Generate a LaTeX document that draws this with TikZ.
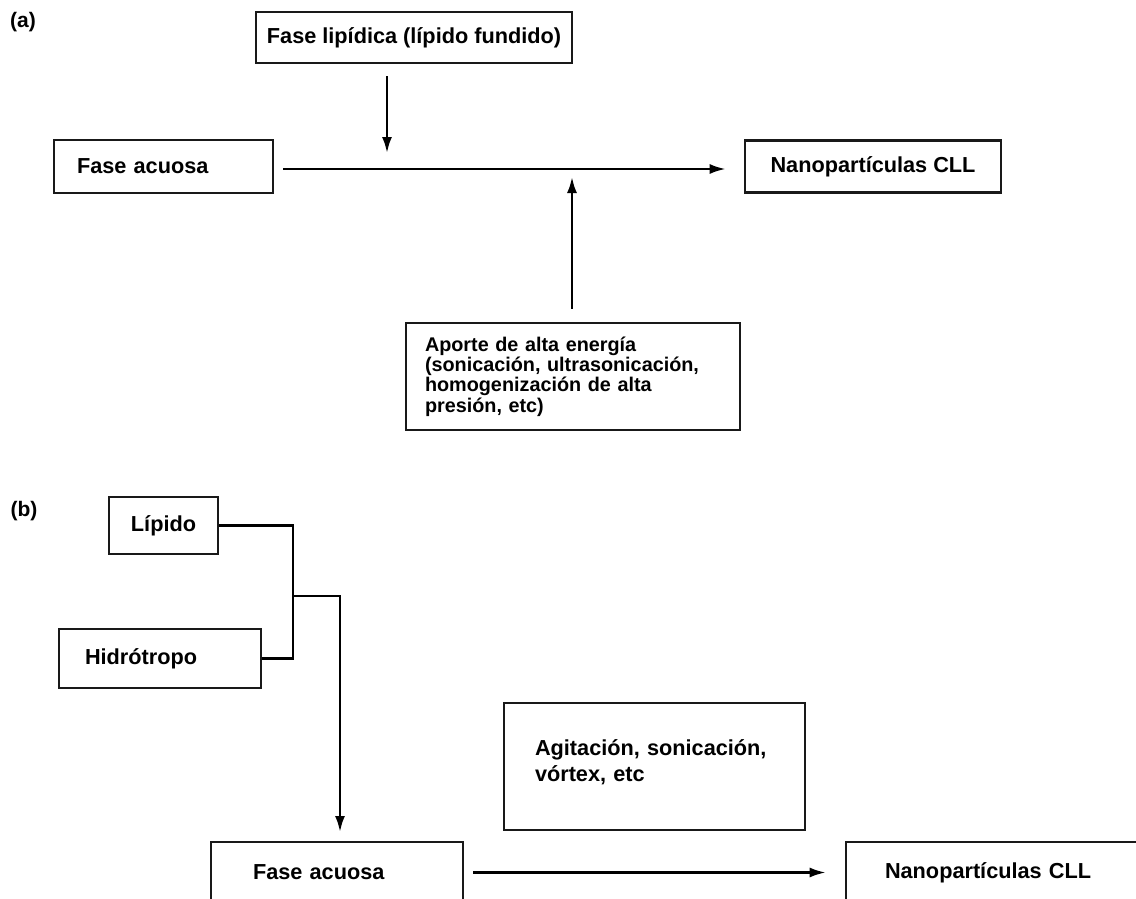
\documentclass[tikz,border=0pt]{standalone}
\usepackage{fontspec}
\setmainfont{Liberation Sans}
\usetikzlibrary{arrows.meta}

\definecolor{boxline}{RGB}{25,25,25}

\begin{document}
\begin{tikzpicture}[x=1pt, y=-1pt,
  box/.style={draw=boxline, line width=2.6pt, inner sep=0pt, font=\bfseries\fontsize{21.7}{26}\selectfont},
  flow/.style={line width=2.4pt, -{Latex[length=16pt,width=10pt]}},
  link/.style={line width=2.4pt},
  tag/.style={font=\bfseries\fontsize{21}{24}\selectfont}]

  \useasboundingbox (0,0) rectangle (1136,899);
  \fill[white] (0,0) rectangle (1136,899);
  \clip (0,0) rectangle (1136,899);

  % (a) melt dispersion route
  \node[tag] (tagA) at (23,22) {(a)};
  \node[box, minimum width=316, minimum height=51, align=center] (lipid) at (414,37.5) {Fase lipídica (lípido fundido)};
  \node[box, text width=173, inner xsep=23, minimum height=53, align=left] (waterA) at (163.5,166.5) {Fase acuosa};
  \node[box, minimum width=256, minimum height=52, align=center] (nanoA) at (873,166.5) {Nanopartículas CLL};
  \node[box, text width=296, inner xsep=19, minimum height=107, align=left,
        font=\bfseries\fontsize{19.8}{20.3}\selectfont] (energy) at (573,376.5)
        {Aporte de alta energía\\(sonicación, ultrasonicación,\\homogenización de alta\\presión, etc)};

  \coordinate (dropA) at (387,153);
  \coordinate (riseA) at (572,177);
  \draw[flow] ([shift={(-27,12)}]lipid.south) -- (dropA);
  \draw[flow] ([shift={(9,2.5)}]waterA.east) -- ([shift={(-18,2.5)}]nanoA.west);
  \draw[flow] ([xshift=-1pt, yshift=13pt]energy.north) -- (riseA);

  % (b) hydrotrope route
  \node[tag] (tagB) at (24,511) {(b)};
  \node[box, minimum width=109, minimum height=57, align=center] (lipido) at (163.5,525.5) {Lípido};
  \node[box, text width=150, inner xsep=26, minimum height=59, align=left] (hidro) at (160,658.5) {Hidrótropo};
  \node[box, text width=239, inner xsep=31, minimum height=127, align=left] (stir) at (654.5,766.5)
        {Agitación, sonicación,\\vórtex, etc\\[-14pt]\mbox{}};
  \node[box, text width=168, inner xsep=42, minimum height=61, align=left] (waterB) at (337,872.5) {Fase acuosa};
  \node[box, text width=226, inner xsep=39, minimum height=61, align=left] (nanoB) at (998,872.5) {Nanopartículas CLL};

  \coordinate (joinB) at (293,596);
  \coordinate (dropB) at (340,832);
  \draw[link] (lipido.east) -| (joinB) |- (hidro.east);
  \draw[flow] (joinB) -| (dropB);
  \draw[flow] ([xshift=9pt]waterB.east) -- ([xshift=-19pt]nanoB.west);

\end{tikzpicture}
\end{document}
